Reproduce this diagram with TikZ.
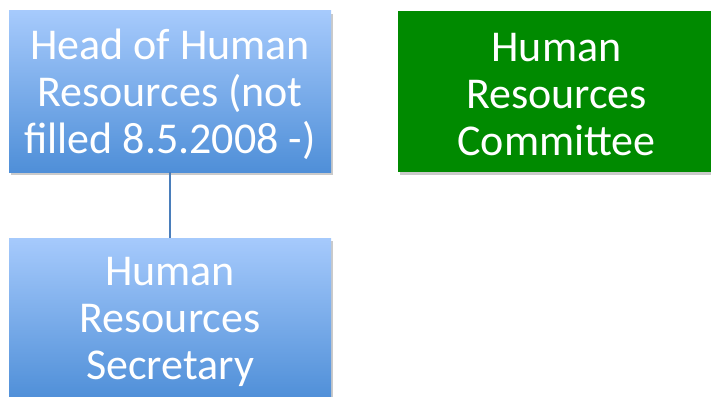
\documentclass[tikz,border=0pt]{standalone}
\usepackage{fontspec}
\setmainfont{Carlito}
\usetikzlibrary{shadows}
\definecolor{bluetop}{HTML}{A6CAFC}
\definecolor{bluebot}{HTML}{4F8FD8}
\definecolor{hrgreen}{HTML}{008A00}
\definecolor{linkblue}{HTML}{4A7EBB}
\tikzset{
  boxbase/.style={minimum width=322pt, minimum height=161pt, inner sep=0pt,
    drop shadow={shadow xshift=1.5pt, shadow yshift=-3pt, opacity=0.35, fill=black!60}},
  bluebox/.style={boxbase, top color=bluetop, bottom color=bluebot},
  greenbox/.style={boxbase, fill=hrgreen, minimum width=317pt},
  boxtext/.style={inner sep=0pt, text=white, align=center,
    font=\fontsize{44}{47}\selectfont},
  link/.style={draw=linkblue, line width=1.5pt}
}
\begin{document}
\begin{tikzpicture}[x=1pt,y=-1pt]
\useasboundingbox (0,0) rectangle (711,396);
\clip (0,0) rectangle (711,396);
\node[bluebox] (head) at (170,91.5) {};
\node[greenbox] (comm) at (556.5,91.5) {};
\node[bluebox] (secr) at (170,318.5) {};
\node[boxtext] (headtext) at ([yshift=-3pt]head.center) {Head of Human\\Resources (not\\filled 8.5.2008 -)};
\node[boxtext] (commtext) at ([yshift=-3pt]comm.center) {Human\\Resources\\Committee};
\node[boxtext] (secrtext) at ([yshift=-3pt]secr.center) {Human\\Resources\\Secretary};
\draw[link] (head.south) -- (secr.north);
\end{tikzpicture}
\end{document}
